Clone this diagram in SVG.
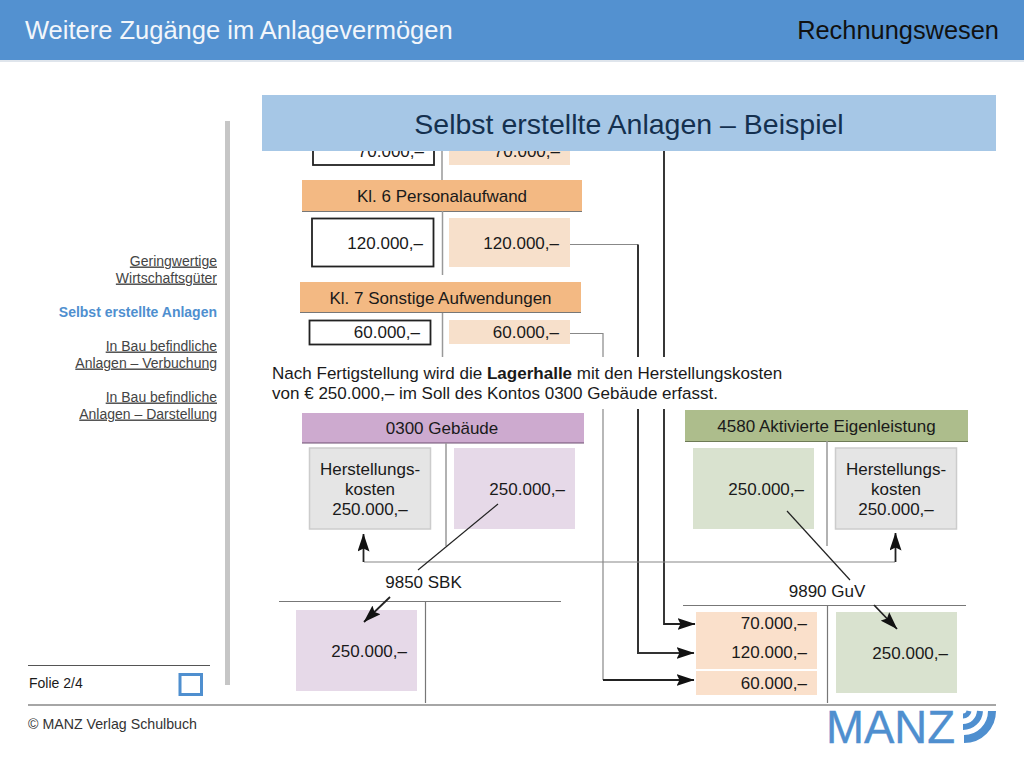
<svg xmlns="http://www.w3.org/2000/svg" width="1024" height="768" viewBox="0 0 1024 768">
<style>
text{font-family:"Liberation Sans",Arial,sans-serif;fill:#1a1a1a;font-size:17px}
.r{text-anchor:end}.m{text-anchor:middle}
.side{font-size:14px;fill:#444;text-anchor:end;text-decoration:underline}
.thin{stroke:#888;stroke-width:1.2;fill:none}
.axis{stroke:#999;stroke-width:1.5;fill:none}
.rule{stroke:#777;stroke-width:1.2;fill:none}
.dk{stroke:#222;stroke-width:1.8;fill:none}
.thick{stroke:#333;stroke-width:2;fill:none}
.white{fill:#fff;stroke:#222;stroke-width:1.8}
.peach{fill:#f7e0cb}.or{fill:#f3b983}.lil{fill:#e6d9e8}.pur{fill:#cdaacf}.grn{fill:#d9e2cf}.ol{fill:#adbd8c}
.gry{fill:#e5e5e5;stroke:#ccc;stroke-width:1.5}
</style>
<defs>
<marker id="a" viewBox="0 0 18 12" refX="17.500" refY="6" markerWidth="18" markerHeight="12" markerUnits="userSpaceOnUse" orient="auto"><path d="M0 0L18 6L0 12L3 6Z" fill="#111"/></marker>
</defs>
<rect width="1024" height="768" fill="#fff"/>
<g id="header">
<rect x="0" y="0" width="1024" height="60" fill="#5391d0"/>
<rect x="0" y="60" width="1024" height="2" fill="#dfe5ec"/>
<text x="25" y="39" style="font-size:25.500px;fill:#f2f6fb">Weitere Zugänge im Anlagevermögen</text>
<text x="999" y="39" class="r" style="font-size:25.400px;fill:#111">Rechnungswesen</text>
</g>
<g id="sidebar">
<rect x="225" y="121" width="5" height="564" fill="#c6c6c6"/>
<text x="217" y="265.500" class="side">Geringwertige</text>
<text x="217" y="282.500" class="side">Wirtschaftsgüter</text>
<text x="217" y="316.500" class="side" style="font-weight:bold;fill:#4f8fcf;text-decoration:none">Selbst erstellte Anlagen</text>
<text x="217" y="350.500" class="side">In Bau befindliche</text>
<text x="217" y="367.500" class="side">Anlagen – Verbuchung</text>
<text x="217" y="401.500" class="side">In Bau befindliche</text>
<text x="217" y="418.500" class="side">Anlagen – Darstellung</text>
</g>
<g id="kl5-rest">
<rect class="white" x="313" y="140" width="121" height="25"/>
<rect class="peach" x="449" y="140" width="121" height="25"/>
<path class="axis" d="M442 151V180"/>
<text x="424" y="157" class="r">70.000,–</text>
<text x="560" y="157" class="r">70.000,–</text>
</g>
<g id="title-band">
<rect x="262" y="95" width="734" height="56" fill="#a6c7e6"/>
<text x="629" y="134" class="m" style="font-size:28.500px;fill:#14304f">Selbst erstellte Anlagen – Beispiel</text>
</g>
<g id="kl6">
<rect class="or" x="302" y="180" width="280" height="31"/>
<path class="rule" d="M302 211.500H582"/>
<path class="axis" d="M442.500 211V275"/>
<text x="442" y="202" class="m">Kl. 6 Personalaufwand</text>
<rect class="white" x="312" y="218.500" width="121.500" height="48"/>
<rect class="peach" x="449" y="218" width="121" height="49"/>
<text x="423" y="249" class="r">120.000,–</text>
<text x="559" y="249" class="r">120.000,–</text>
</g>
<g id="kl7">
<rect class="or" x="300" y="282" width="281" height="30"/>
<path class="rule" d="M300 312.500H581"/>
<path class="axis" d="M442.500 313V357"/>
<text x="440.500" y="304" class="m">Kl. 7 Sonstige Aufwendungen</text>
<rect class="white" x="309.500" y="320.500" width="121" height="24"/>
<rect class="peach" x="449" y="320" width="121" height="24"/>
<text x="420" y="338" class="r">60.000,–</text>
<text x="559" y="338" class="r">60.000,–</text>
</g>
<g id="note">
<text x="272" y="379" style="font-size:17.050px">Nach Fertigstellung wird die <tspan font-weight="bold">Lagerhalle</tspan> mit den Herstellungskosten</text>
<text x="272" y="399" style="font-size:17.050px">von € 250.000,– im Soll des Kontos 0300 Gebäude erfasst.</text>
</g>
<g id="k0300">
<rect class="pur" x="302" y="413" width="282" height="30"/>
<path d="M302 443H584" stroke="#6f4f72" stroke-width="1.2"/>
<path class="axis" d="M446 443V546"/>
<text x="442" y="434" class="m">0300 Gebäude</text>
<rect class="gry" x="309.500" y="448" width="121" height="81"/>
<rect class="lil" x="454" y="448" width="121" height="81"/>
<text x="370" y="475" class="m">Herstellungs-</text>
<text x="370" y="495" class="m">kosten</text>
<text x="370" y="515" class="m">250.000,–</text>
<text x="565" y="495" class="r">250.000,–</text>
</g>
<g id="k4580">
<rect class="ol" x="685" y="410" width="283" height="31"/>
<path d="M685 441.500H968" stroke="#6d7a55" stroke-width="1"/>
<path class="axis" d="M827 441V546"/>
<text x="826.500" y="432" class="m">4580 Aktivierte Eigenleistung</text>
<rect class="grn" x="693" y="448" width="121" height="81"/>
<rect class="gry" x="835.500" y="448" width="121" height="81"/>
<text x="804" y="495" class="r">250.000,–</text>
<text x="896" y="475" class="m">Herstellungs-</text>
<text x="896" y="495" class="m">kosten</text>
<text x="896" y="515" class="m">250.000,–</text>
</g>
<g id="k9850">
<path class="rule" d="M279 601.500H561M425.500 601V703"/>
<text x="423.500" y="588" class="m">9850 SBK</text>
<rect class="lil" x="296" y="610" width="121" height="81"/>
<text x="407" y="657" class="r">250.000,–</text>
</g>
<g id="k9890">
<path class="rule" d="M683 605.500H966M827.500 605V703"/>
<text x="827" y="597" class="m">9890 GuV</text>
<rect class="peach" x="696" y="612" width="121" height="57" style="fill:#fae0cb"/>
<rect class="peach" x="696" y="671" width="121" height="24" style="fill:#fae0cb"/>
<rect class="grn" x="836" y="612" width="121" height="81"/>
<text x="807" y="629" class="r">70.000,–</text>
<text x="807" y="658" class="r">120.000,–</text>
<text x="807" y="689" class="r">60.000,–</text>
<text x="948" y="659" class="r">250.000,–</text>
</g>
<g id="connectors">
<path class="dk" d="M664 151V357M664 409V624H695" marker-end="url(#a)"/>
<path class="thin" d="M570 244.500H638"/>
<path class="thick" d="M638 244.500V357M638 409V653H694" marker-end="url(#a)"/>
<path class="thin" d="M570 333.500H603V357"/>
<path class="thin" d="M603 409V680"/>
<path class="dk" d="M603 680H694" marker-end="url(#a)"/>
<path class="thin" d="M364 562H895"/>
<path class="dk" d="M363.500 562V534" marker-end="url(#a)"/>
<path class="dk" d="M895.500 562V533" marker-end="url(#a)"/>
<path d="M498 504L418 570" stroke="#222" stroke-width="1.2" fill="none"/>
<path class="dk" d="M390 597L364 622" marker-end="url(#a)"/>
<path d="M787 511L850 580" stroke="#222" stroke-width="1.2" fill="none"/>
<path class="dk" d="M874 605L897 629" marker-end="url(#a)"/>
</g>
<g id="footer">
<path d="M28 665.500H210" stroke="#555" stroke-width="1.2"/>
<text x="29" y="688" style="font-size:14px">Folie 2/4</text>
<rect x="180" y="674.500" width="21.500" height="20" fill="#fff" stroke="#4f8fcf" stroke-width="3"/>
<path d="M28 705H996" stroke="#888" stroke-width="1.6"/>
<text x="28" y="729" style="font-size:14.200px;fill:#333">© MANZ Verlag Schulbuch</text>
</g>
<g id="logo">
<text x="826" y="743" textLength="129" lengthAdjust="spacingAndGlyphs" style="font-size:46px;fill:#4f8fcf;stroke:#4f8fcf;stroke-width:.4">MANZ</text>
<path d="M964 739A28 28 0 0 0 992 711" fill="none" stroke="#4f8fcf" stroke-width="8"/>
<path d="M963 727A17 17 0 0 0 980 711" fill="none" stroke="#4f8fcf" stroke-width="6"/>
<path d="M963 716A6 6 0 0 0 969 711" fill="none" stroke="#4f8fcf" stroke-width="5"/>
</g>
</svg>
